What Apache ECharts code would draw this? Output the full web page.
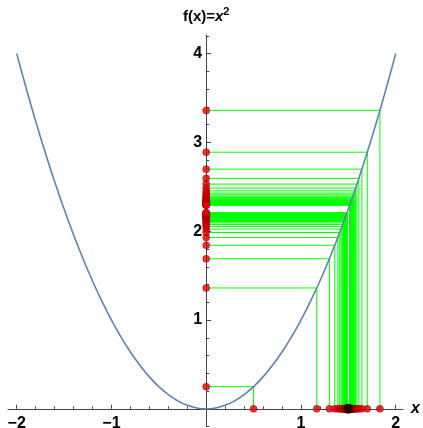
<!DOCTYPE html>
<html>
<head>
<meta charset="utf-8">
<script src="https://cdn.jsdelivr.net/npm/echarts@6/dist/echarts.min.js"></script>
<style>
html,body{margin:0;padding:0;background:#fff;}
#chart{width:423px;height:428px;}
</style>
</head>
<body>
<div id="chart"></div>
<script>
// Parabola samples f(x)=x^2
var curveX = [-2,-1.9,-1.8,-1.7,-1.6,-1.5,-1.4,-1.3,-1.2,-1.1,-1,-0.9,-0.8,-0.7,-0.6,-0.5,-0.4,-0.3,-0.2,-0.1,0,0.1,0.2,0.3,0.4,0.5,0.6,0.7,0.8,0.9,1,1.1,1.2,1.3,1.4,1.5,1.6,1.7,1.8,1.9,2];
var curveY = [4,3.61,3.24,2.89,2.56,2.25,1.96,1.69,1.44,1.21,1,0.81,0.64,0.49,0.36,0.25,0.16,0.09,0.04,0.01,0,0.01,0.04,0.09,0.16,0.25,0.36,0.49,0.64,0.81,1,1.21,1.44,1.69,1.96,2.25,2.56,2.89,3.24,3.61,4];

// Sequence points x_n and their images f(x_n)
var iterX = [0.5,1.1667,1.8333,1.3,1.7,1.3571,1.6429,1.3889,1.6111,1.4091,1.5909,1.4231,1.5769,1.4333,1.5667,1.4412,1.5588,1.4474,1.5526,1.4524,1.5476,1.4565,1.5435,1.46,1.54,1.463,1.537,1.4655,1.5345,1.4677,1.5323,1.4697,1.5303,1.4714,1.5286,1.473,1.527,1.4744,1.5256,1.4756,1.5244,1.4767,1.5233,1.4778,1.5222,1.4787,1.5213,1.4796,1.5204,1.4804,1.5196,1.4811,1.5189,1.4818,1.5182,1.4825,1.5175,1.4831,1.5169,1.4836,1.5164,1.4841,1.5159,1.4846,1.5154,1.4851,1.5149,1.4855,1.5145];
var iterY = [0.25,1.3612,3.361,1.69,2.89,1.8417,2.6991,1.929,2.5956,1.9856,2.531,2.0252,2.4866,2.0544,2.4546,2.0771,2.4299,2.095,2.4106,2.1095,2.3951,2.1214,2.3824,2.1316,2.3716,2.1404,2.3624,2.1477,2.3547,2.1541,2.3479,2.16,2.3418,2.165,2.3366,2.1697,2.3317,2.1739,2.3275,2.1774,2.3238,2.1806,2.3204,2.1839,2.3171,2.1866,2.3144,2.1892,2.3116,2.1916,2.3092,2.1937,2.3071,2.1957,2.3049,2.1978,2.3028,2.1996,2.301,2.2011,2.2995,2.2026,2.298,2.204,2.2964,2.2055,2.2949,2.2067,2.2937];

// Limit point
var limitX = [1.5];

// Tick values and labels
var xMajor = [-2,-1,1,2];
var xMajorLabels = ['\u22122','\u22121','1','2'];
var xMinor = [-1.8,-1.6,-1.4,-1.2,-0.8,-0.6,-0.4,-0.2,0.2,0.4,0.6,0.8,1.2,1.4,1.6,1.8];
var yMajor = [1,2,3,4];
var yMajorLabels = ['1','2','3','4'];
var yMinor = [-0.2,0.2,0.4,0.6,0.8,1.2,1.4,1.6,1.8,2.2,2.4,2.6,2.8,3.2,3.4,3.6,3.8,4.2];

var axisColor = '#444';
var font = '"Liberation Sans", Arial, sans-serif';

var curveData = curveX.map(function(x,i){return [x, curveY[i]];});
var lineData = iterX.map(function(x,i){return {coords:[[x,0],[x,iterY[i]],[0,iterY[i]]]};});
var dotsX = iterX.map(function(x){return [x,0];});
var dotsY = iterY.map(function(y){return [0,y];});
var limitData = limitX.map(function(x){return [x,0];});

function lab(values, labels){
  return function(v){
    for (var i=0;i<values.length;i++){ if (Math.abs(values[i]-v)<1e-9) return labels[i]; }
    return '';
  };
}

// Grid geometry (layout only)
var G = {left:8, right:20, top:35, bottom:1.4};
var XMIN=-2.092, XMAX=2.077, YMIN=-0.2, YMAX=4.21;
var W = 423 - G.left - G.right, H = 428 - G.top - G.bottom;
// offsets that bring each axis onto the other axis' zero
var xAxisOffset = -(0 - YMIN) / (YMAX - YMIN) * H;
var yAxisOffset = -(0 - XMIN) / (XMAX - XMIN) * W;

var chart = echarts.init(document.getElementById('chart'), null, {renderer:'canvas'});
chart.setOption({
  animation:false,
  backgroundColor:'#fff',
  grid:{left:G.left, right:G.right, top:G.top, bottom:G.bottom, containLabel:false, outerBoundsMode:'none'},
  xAxis:[
    {type:'value', min:XMIN, max:XMAX, position:'bottom', offset:xAxisOffset,
     axisLine:{show:true, onZero:false, lineStyle:{color:axisColor, width:1}},
     axisTick:{show:true, inside:true, length:4, customValues:xMajor, lineStyle:{color:axisColor}},
     axisLabel:{show:true, customValues:xMajor, formatter:lab(xMajor,xMajorLabels), margin:7,
       color:'#000', fontWeight:'bold', fontSize:16, fontFamily:font},
     splitLine:{show:false},
     name:'x', nameLocation:'end', nameGap:8,
     nameTextStyle:{color:'#000', fontStyle:'italic', fontWeight:'bold', fontSize:16, fontFamily:font, verticalAlign:'middle'}
    },
    {type:'value', min:XMIN, max:XMAX, position:'bottom', offset:xAxisOffset,
     axisLine:{show:false, onZero:false},
     axisTick:{show:true, inside:true, length:2.5, customValues:xMinor, lineStyle:{color:axisColor}},
     axisLabel:{show:false}, splitLine:{show:false}
    }
  ],
  yAxis:[
    {type:'value', min:YMIN, max:YMAX, position:'left', offset:yAxisOffset,
     axisLine:{show:true, onZero:false, lineStyle:{color:axisColor, width:1}},
     axisTick:{show:true, inside:true, length:5, customValues:yMajor, lineStyle:{color:axisColor}},
     axisLabel:{show:true, customValues:yMajor, formatter:lab(yMajor,yMajorLabels), margin:4,
       color:'#000', fontWeight:'bold', fontSize:16, fontFamily:font},
     splitLine:{show:false},
     name:'{a|f(x)=}{b|x}{c|2}', nameLocation:'end', nameGap:7,
     nameTextStyle:{
       rich:{
         a:{color:'#000', fontWeight:'bold', fontSize:15, fontFamily:font},
         b:{color:'#000', fontWeight:'bold', fontStyle:'italic', fontSize:15, fontFamily:font},
         c:{color:'#000', fontWeight:'bold', fontSize:11, fontFamily:font, padding:[0,0,11,0]}
       }
     }
    },
    {type:'value', min:YMIN, max:YMAX, position:'left', offset:yAxisOffset,
     axisLine:{show:false, onZero:false},
     axisTick:{show:true, inside:true, length:3, customValues:yMinor, lineStyle:{color:axisColor}},
     axisLabel:{show:false}, splitLine:{show:false}
    }
  ],
  series:[
    {type:'lines', coordinateSystem:'cartesian2d', xAxisIndex:0, yAxisIndex:0, polyline:true,
     silent:true, z:2, data:lineData,
     lineStyle:{color:'#00ff00', width:1, opacity:1}},
    {type:'line', xAxisIndex:0, yAxisIndex:0, data:curveData, smooth:0.3, showSymbol:false,
     silent:true, z:3, lineStyle:{color:'#5e81b5', width:1.6}},
    {type:'scatter', xAxisIndex:0, yAxisIndex:0, data:dotsX, symbolSize:7, z:4, silent:true,
     itemStyle:{color:'#e60000', borderColor:'#990000', borderWidth:0.6}},
    {type:'scatter', xAxisIndex:0, yAxisIndex:0, data:dotsY, symbolSize:7, z:4, silent:true,
     itemStyle:{color:'#e60000', borderColor:'#990000', borderWidth:0.6}},
    {type:'scatter', xAxisIndex:0, yAxisIndex:0, data:limitData, symbolSize:10, z:5, silent:true,
     itemStyle:{color:'#000'}}
  ]
});
</script>
</body>
</html>
